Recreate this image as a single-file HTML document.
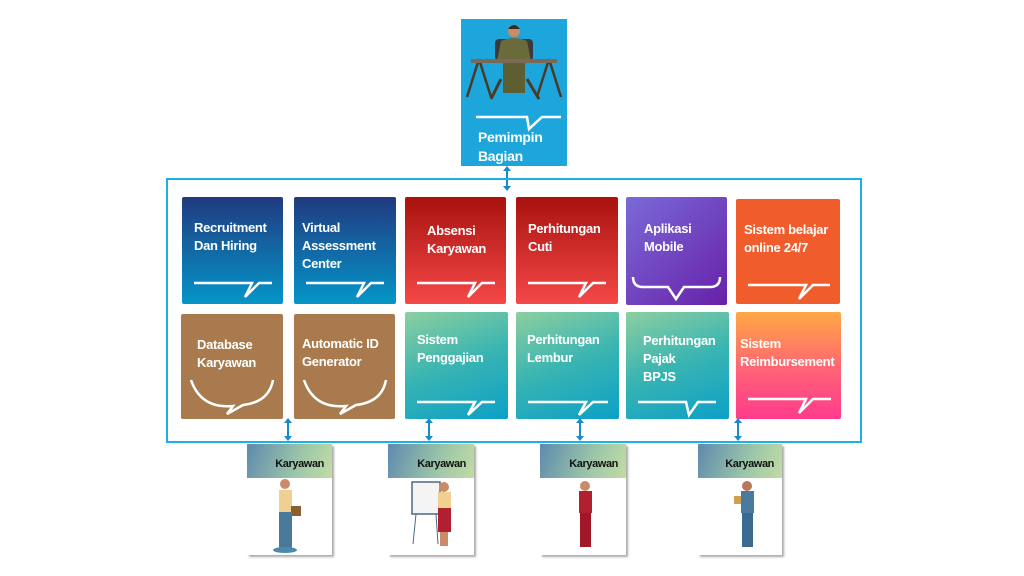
<!DOCTYPE html>
<html><head><meta charset="utf-8"><style>
body{margin:0;width:1024px;height:576px;background:#fff;position:relative;overflow:hidden;font-family:"Liberation Sans","DejaVu Sans",sans-serif}
.b{position:absolute;color:#fff;font-weight:bold;font-size:13px;line-height:18px;border-radius:2px;box-sizing:border-box}
.b span{position:absolute;letter-spacing:-0.3px}
.b svg{position:absolute;left:0;top:0}
.card{position:absolute;width:85px;height:111px;background:#fff;box-shadow:2px 2px 2px #aaa}
.card .h{height:34px;background:linear-gradient(110deg,#5e8aae,#9cc6a8 60%,#c2dca4);color:#111;font-weight:bold;font-size:11px;text-align:right;padding-right:8px;line-height:40px;letter-spacing:-0.4px}
</style></head><body>
<!-- top box -->
<div class="b" style="left:461px;top:19px;width:106px;height:147px;background:#1da6db;border-radius:0">
<svg width="106" height="147"><polyline points="15,98 66,98 68,110 81,98 100,98" fill="none" stroke="#fff" stroke-width="2.5"/>
<line x1="40" y1="60" x2="30" y2="80" stroke="#4a3a2a" stroke-width="3"/><line x1="66" y1="60" x2="78" y2="80" stroke="#4a3a2a" stroke-width="3"/>
<line x1="18" y1="40" x2="6" y2="78" stroke="#4a3a2a" stroke-width="2.5"/><line x1="18" y1="40" x2="30" y2="78" stroke="#4a3a2a" stroke-width="2.5"/>
<line x1="88" y1="40" x2="76" y2="78" stroke="#4a3a2a" stroke-width="2.5"/><line x1="88" y1="40" x2="100" y2="78" stroke="#4a3a2a" stroke-width="2.5"/>
<rect x="34" y="20" width="38" height="22" rx="4" fill="#3a3a3a"/>
<path d="M40 22 Q53 16 66 22 L70 42 L36 42Z" fill="#6a6a3a"/>
<circle cx="53" cy="12" r="6" fill="#c98b6a"/><path d="M47 10 Q53 2 59 10" fill="#3a2a1a"/>
<rect x="10" y="40" width="86" height="4" fill="#7a6a55"/>
<rect x="42" y="44" width="22" height="30" fill="#5e5e33"/>
</svg>
<span style="left:17px;top:109px;font-size:14px;line-height:19px">Pemimpin<br>Bagian</span></div>
<!-- top arrow -->
<svg style="position:absolute;left:500px;top:166px" width="14" height="26"><line x1="7" y1="3" x2="7" y2="22" stroke="#1a8ad0" stroke-width="2"/><path d="M3 5 L7 0 L11 5Z M3 20 L7 25 L11 20Z" fill="#1a8ad0"/></svg>
<!-- frame -->
<div style="position:absolute;left:166px;top:178px;width:692px;height:261px;border:2px solid #1ab0e8"></div>

<!-- row1 -->
<div class="b" style="left:182px;top:197px;width:101px;height:107px;background:linear-gradient(#213a80,#0496c8)"><span style="left:12px;top:22px">Recruitment<br>Dan Hiring</span><svg width="101" height="107"><polyline points="12,86 70,86 63,100 77,86 90,86" fill="none" stroke="#fff" stroke-width="2.5"/></svg></div>
<div class="b" style="left:294px;top:197px;width:102px;height:107px;background:linear-gradient(#213a80,#0496c8)"><span style="left:8px;top:22px">Virtual<br>Assessment<br>Center</span><svg width="102" height="107"><polyline points="12,86 70,86 63,100 77,86 90,86" fill="none" stroke="#fff" stroke-width="2.5"/></svg></div>
<div class="b" style="left:405px;top:197px;width:101px;height:107px;background:linear-gradient(#a8120e,#f54848)"><span style="left:22px;top:25px">Absensi<br>Karyawan</span><svg width="101" height="107"><polyline points="12,86 70,86 63,100 77,86 90,86" fill="none" stroke="#fff" stroke-width="2.5"/></svg></div>
<div class="b" style="left:516px;top:197px;width:102px;height:107px;background:linear-gradient(#a8120e,#f54848)"><span style="left:12px;top:23px">Perhitungan<br>Cuti</span><svg width="102" height="107"><polyline points="12,86 70,86 63,100 77,86 90,86" fill="none" stroke="#fff" stroke-width="2.5"/></svg></div>
<div class="b" style="left:626px;top:197px;width:101px;height:108px;background:linear-gradient(135deg,#7a6ad8,#6820a8)"><span style="left:18px;top:23px">Aplikasi<br>Mobile</span><svg width="101" height="108"><path d="M7 80 Q7 90 17 90 L42 90 L50 102 L58 90 L84 90 Q94 90 94 80" fill="none" stroke="#fff" stroke-width="2.5"/></svg></div>
<div class="b" style="left:736px;top:199px;width:104px;height:105px;background:#f05c2c"><span style="left:8px;top:22px">Sistem belajar<br>online 24/7</span><svg width="104" height="105"><polyline points="12,86 70,86 63,100 77,86 94,86" fill="none" stroke="#fff" stroke-width="2.5"/></svg></div>
<!-- row2 -->
<div class="b" style="left:181px;top:314px;width:102px;height:105px;background:#a87a4e"><span style="left:16px;top:22px">Database<br>Karyawan</span><svg width="102" height="105"><path d="M10 66 Q20 95 52 92 L46 100 L62 91 Q88 88 92 66" fill="none" stroke="#fff" stroke-width="2.5"/></svg></div>
<div class="b" style="left:294px;top:314px;width:101px;height:105px;background:#a87a4e"><span style="left:8px;top:21px">Automatic ID<br>Generator</span><svg width="101" height="105"><path d="M10 66 Q20 95 52 92 L46 100 L62 91 Q88 88 92 66" fill="none" stroke="#fff" stroke-width="2.5"/></svg></div>
<div class="b" style="left:405px;top:312px;width:103px;height:107px;background:linear-gradient(160deg,#8ccfa0,#38b4b2 50%,#0ca0c8)"><span style="left:12px;top:19px">Sistem<br>Penggajian</span><svg width="103" height="107"><polyline points="12,90 70,90 63,103 77,90 90,90" fill="none" stroke="#fff" stroke-width="2.5"/></svg></div>
<div class="b" style="left:516px;top:312px;width:103px;height:107px;background:linear-gradient(160deg,#8ccfa0,#38b4b2 50%,#0ca0c8)"><span style="left:11px;top:19px">Perhitungan<br>Lembur</span><svg width="103" height="107"><polyline points="12,90 70,90 63,103 77,90 92,90" fill="none" stroke="#fff" stroke-width="2.5"/></svg></div>
<div class="b" style="left:626px;top:312px;width:103px;height:107px;background:linear-gradient(160deg,#8ccfa0,#38b4b2 50%,#0ca0c8)"><span style="left:17px;top:20px">Perhitungan<br>Pajak<br>BPJS</span><svg width="103" height="107"><polyline points="12,90 60,90 63,103 72,90 90,90" fill="none" stroke="#fff" stroke-width="2.5"/></svg></div>
<div class="b" style="left:736px;top:312px;width:105px;height:107px;background:linear-gradient(#ffa844,#ff5c7a 60%,#ff3c8c)"><span style="left:4px;top:23px">Sistem<br>Reimbursement</span><svg width="105" height="107"><polyline points="12,87 70,87 63,101 77,87 95,87" fill="none" stroke="#fff" stroke-width="2.5"/></svg></div>

<!-- bottom arrows -->
<svg style="position:absolute;left:281px;top:418px" width="14" height="24"><line x1="7" y1="3" x2="7" y2="20" stroke="#1a8ad0" stroke-width="2"/><path d="M3 5 L7 0 L11 5Z M3 18 L7 23 L11 18Z" fill="#1a8ad0"/></svg>
<svg style="position:absolute;left:422px;top:418px" width="14" height="24"><line x1="7" y1="3" x2="7" y2="20" stroke="#1a8ad0" stroke-width="2"/><path d="M3 5 L7 0 L11 5Z M3 18 L7 23 L11 18Z" fill="#1a8ad0"/></svg>
<svg style="position:absolute;left:573px;top:418px" width="14" height="24"><line x1="7" y1="3" x2="7" y2="20" stroke="#1a8ad0" stroke-width="2"/><path d="M3 5 L7 0 L11 5Z M3 18 L7 23 L11 18Z" fill="#1a8ad0"/></svg>
<svg style="position:absolute;left:731px;top:418px" width="14" height="24"><line x1="7" y1="3" x2="7" y2="20" stroke="#1a8ad0" stroke-width="2"/><path d="M3 5 L7 0 L11 5Z M3 18 L7 23 L11 18Z" fill="#1a8ad0"/></svg>

<!-- cards -->
<div class="card" style="left:247px;top:444px"><div class="h">Karyawan</div>
<svg width="85" height="77"><circle cx="38" cy="6" r="5" fill="#c98b6a"/><rect x="32" y="12" width="13" height="22" fill="#f0d090"/><rect x="44" y="28" width="10" height="10" fill="#8a6030"/><rect x="32" y="34" width="13" height="37" fill="#4a7a9a"/><ellipse cx="38" cy="72" rx="12" ry="3" fill="#4a8aaa"/></svg></div>
<div class="card" style="left:388px;top:444px;width:86px"><div class="h">Karyawan</div>
<svg width="86" height="77"><rect x="24" y="4" width="28" height="32" fill="#f4f4f4" stroke="#4a6a80" stroke-width="1.5"/><line x1="28" y1="36" x2="25" y2="66" stroke="#4a6a80"/><line x1="48" y1="36" x2="50" y2="66" stroke="#4a6a80"/><circle cx="56" cy="9" r="5" fill="#c98b6a"/><rect x="50" y="14" width="13" height="16" fill="#f0d090"/><rect x="50" y="30" width="13" height="24" fill="#b02030"/><rect x="52" y="54" width="8" height="14" fill="#c98b6a"/></svg></div>
<div class="card" style="left:540px;top:444px;width:86px"><div class="h">Karyawan</div>
<svg width="86" height="77"><circle cx="45" cy="8" r="5" fill="#c98b6a"/><rect x="39" y="13" width="13" height="22" fill="#b02030"/><rect x="40" y="35" width="11" height="34" fill="#a01828"/></svg></div>
<div class="card" style="left:698px;top:444px;width:84px"><div class="h">Karyawan</div>
<svg width="84" height="77"><circle cx="49" cy="8" r="5" fill="#b8765a"/><rect x="43" y="13" width="13" height="22" fill="#4a7aa0"/><rect x="36" y="18" width="7" height="8" fill="#d0a050"/><rect x="44" y="35" width="11" height="34" fill="#3a6a90"/></svg></div>
</body></html>
